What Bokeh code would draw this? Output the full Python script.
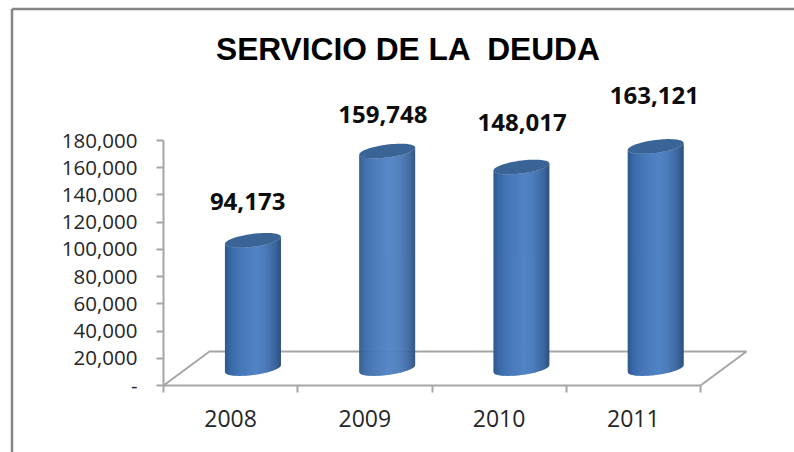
from bokeh.plotting import figure
from bokeh.embed import file_html
from bokeh.resources import INLINE
from bokeh.models import (ColumnDataSource, FixedTicker, Label, LinearAxis,
                          NumeralTickFormatter, Range1d)
from bokeh.core.properties import value
import numpy as np

# --- data ---
years = ["2008", "2009", "2010", "2011"]
debt_service = [94173, 159748, 148017, 163121]
y_ticks = [0, 20000, 40000, 60000, 80000, 100000, 120000, 140000, 160000, 180000]
title_text = "SERVICIO DE LA \u00a0DEUDA"

# --- layout constants (screen pixels) ---
W, H = 794, 452
ORIGIN_X, ORIGIN_Y = 163, 385    # axis origin inside the figure, from its top-left corner
PX_X = 134.25                    # pixels per category
PX_Y = 245 / 180000              # pixels per value unit
DEPTH_PX_X, DEPTH_PX_Y = 46, 34
BAR_W_PX = 56
BAR_SHIFT_PX = -0.7
TILT_PX, CAP_B_PX = 3.5, 6.5
label_dx_px = [-5.3, -4.3, 0.7, -1.3]    # manual placement of the data labels
label_lift_px = [39, 36.5, 44.5, 51]

dx = lambda px: px / PX_X
dy = lambda px: px / PX_Y

p = figure(width=W, height=H, output_backend="svg", toolbar_location=None,
           x_axis_type=None, y_axis_type=None,
           x_range=Range1d(dx(-ORIGIN_X), dx(W - ORIGIN_X)),
           y_range=Range1d(dy(ORIGIN_Y - H), dy(ORIGIN_Y)),
           min_border=0,
           background_fill_color="white", border_fill_color="white", outline_line_color=None)
p.grid.visible = False

AXIS_GREY = "#A6A6A6"
FRAME_GREY = "#868686"
n = len(years)

yaxis = LinearAxis(ticker=FixedTicker(ticks=y_ticks), bounds=(0, 180000), fixed_location=0,
                   formatter=NumeralTickFormatter(format="0,0"),
                   major_label_overrides={0: "-"},
                   major_label_text_font="Open Sans", major_label_text_font_size="20.5px",
                   major_label_text_color="#262626", major_label_standoff=19,
                   axis_line_color=AXIS_GREY, axis_line_width=2,
                   major_tick_line_color=AXIS_GREY, major_tick_line_width=2,
                   major_tick_out=7, major_tick_in=0, minor_tick_line_color=None)
p.add_layout(yaxis, "left")

xaxis = LinearAxis(ticker=FixedTicker(ticks=[i + 0.5 for i in range(n)],
                                      minor_ticks=list(range(n + 1))),
                   bounds=(0, n), fixed_location=0,
                   major_label_overrides={i + 0.5: years[i] for i in range(n)},
                   major_label_text_font="Open Sans", major_label_text_font_size="23px",
                   major_label_text_color="#262626", major_label_standoff=17,
                   axis_line_color=AXIS_GREY, axis_line_width=2,
                   major_tick_line_color=None, major_tick_out=0, major_tick_in=0,
                   minor_tick_line_color=AXIS_GREY, minor_tick_line_width=2,
                   minor_tick_out=7, minor_tick_in=0)
p.add_layout(xaxis, "below")

# outer chart border (left and top only are visible in the reference)
bx = dx(11.5 - ORIGIN_X)
by = dy(ORIGIN_Y - 8.5)
p.line([bx, bx], [dy(ORIGIN_Y - H), by], line_color=FRAME_GREY, line_width=2.5)
p.line([bx, dx(W - ORIGIN_X)], [by, by], line_color=FRAME_GREY, line_width=2.5)

# title
p.add_layout(Label(x=dx(408 - ORIGIN_X), y=dy(ORIGIN_Y - 48), text=title_text,
                   text_align="center", text_baseline="middle",
                   text_font="Liberation Sans", text_font_size="31.7px",
                   text_font_style="bold", text_color="#000000"))

# 3-D floor
fx, fy = dx(DEPTH_PX_X), dy(DEPTH_PX_Y)
p.line([0, fx, n + fx, n], [0, fy, fy, 0], line_color=AXIS_GREY, line_width=2)

# cylinders
centre_shift = fx / 2 + dx(BAR_SHIFT_PX)
base = fy / 2
STOPS_U = [-1.0, -0.8, -0.45, 0.1, 0.45, 0.8, 1.0]
STOPS_C = [(0x2E, 0x58, 0x8C), (0x3A, 0x6A, 0xA8), (0x47, 0x78, 0xB8), (0x52, 0x84, 0xC6),
           (0x4C, 0x7C, 0xBA), (0x3C, 0x66, 0x9E), (0x2D, 0x4F, 0x7C)]
N_STRIPS = 56


def strip_colour(u):
    c = [int(np.interp(u, STOPS_U, [s[k] for s in STOPS_C])) for k in range(3)]
    return "#%02x%02x%02x" % tuple(c)


def arc(u, sign):
    return TILT_PX * u + sign * CAP_B_PX * np.sqrt(np.clip(1 - u * u, 0, 1))


xs_body, ys_body, cols_body = [], [], []
xs_cap, ys_cap = [], []
for i, v in enumerate(debt_service):
    cx = i + 0.5 + centre_shift
    top = base + v
    edges = np.linspace(-1, 1, N_STRIPS + 1)
    for a, b in zip(edges[:-1], edges[1:]):
        us = np.linspace(a, min(b + 0.02, 1.0), 3)
        px = cx + dx(BAR_W_PX / 2) * us
        upper = top + dy(1) * arc(us, -1)
        lower = base + dy(1) * arc(us, -1)
        xs_body.append(np.concatenate([px, px[::-1]]).tolist())
        ys_body.append(np.concatenate([upper, lower[::-1]]).tolist())
        cols_body.append(strip_colour((a + b) / 2))
    t = np.linspace(0, 2 * np.pi, 73)
    uc = np.cos(t)
    xs_cap.append((cx + dx(BAR_W_PX / 2) * uc).tolist())
    ys_cap.append((top + dy(1) * (TILT_PX * uc + CAP_B_PX * np.sin(t))).tolist())

p.patches(xs_body, ys_body, fill_color=cols_body, line_color=None)
p.patches(xs_cap, ys_cap, fill_color="#3A6496", line_color=None)

# data labels
src = ColumnDataSource(dict(
    x=[i + 0.5 + centre_shift + dx(label_dx_px[i]) for i in range(n)],
    y=[base + v + dy(label_lift_px[i]) for i, v in enumerate(debt_service)],
    t=[f"{v:,}" for v in debt_service]))
p.text("x", "y", text="t", source=src, text_align="center", text_baseline="middle",
       text_font=value("Open Sans"), text_font_size="24px", text_font_style="bold",
       text_color="#0D0D0D")

open("out.html", "w").write(file_html(p, INLINE))
